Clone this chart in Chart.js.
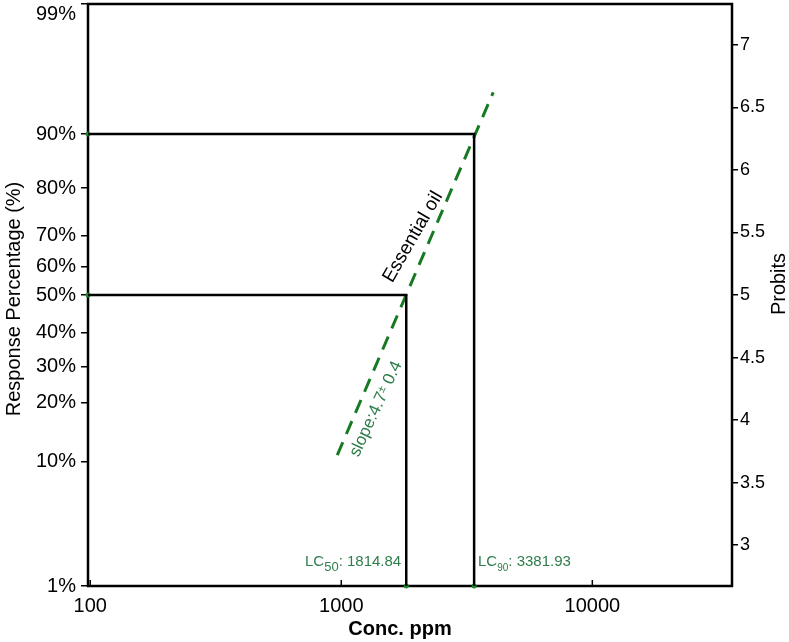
<!DOCTYPE html>
<html>
<head>
<meta charset="utf-8">
<script src="https://cdn.jsdelivr.net/npm/chart.js@4.4.0/dist/chart.umd.min.js"></script>
<style>
  html, body { margin: 0; padding: 0; background: #fff; }
</style>
</head>
<body>
<canvas id="chart" width="789" height="642"></canvas>
<script>
// Probit plot: log concentration vs response, probit units on both y axes
const FONT = "'Liberation Sans', Arial, sans-serif";
const GREEN_LINE = '#177a22';
const GREEN_TEXT = '#2e7d4a';

const xRange = [98, 36000];
const xTicks = [100, 1000, 10000];

// left axis: percentage labels and where they sit on the probit scale
const pctLabels = ['1%', '10%', '20%', '30%', '40%', '50%', '60%', '70%', '80%', '90%', '99%'];
const pctTickProbits = [2.674, 3.67, 4.14, 4.43, 4.70, 5.0, 5.224, 5.472, 5.855, 6.287, 7.326];

// right axis
const probitTicks = [3, 3.5, 4, 4.5, 5, 5.5, 6, 6.5, 7];

const lc50 = 1814.84;
const lc90 = 3381.93;
const probit50 = 5.0;
const probit90 = 6.287;

// fitted line end points (conc, probit)
const fitLineX = [964, 4030];
const fitLineY = [3.72, 6.62];

const yMin = pctTickProbits[0];
const yMax = pctTickProbits[pctTickProbits.length - 1];

const stepLine = (conc, p) => [
  { x: xRange[0], y: p },
  { x: conc, y: p },
  { x: conc, y: yMin },
];

const decorations = {
  id: 'decorations',
  beforeDatasetsDraw(chart) {
    const { ctx, chartArea: a, scales } = chart;
    ctx.save();
    ctx.strokeStyle = '#000';
    // x ticks point into the plot
    ctx.lineWidth = 1.5;
    xTicks.forEach(v => {
      const px = scales.x.getPixelForValue(v);
      ctx.beginPath();
      ctx.moveTo(px, a.bottom);
      ctx.lineTo(px, a.bottom - 6);
      ctx.stroke();
    });
    ctx.lineWidth = 2.5;
    ctx.strokeRect(a.left, a.top, a.right - a.left, a.bottom - a.top);
    ctx.restore();
  },
  afterDraw(chart) {
    const { ctx } = chart;
    ctx.save();
    ctx.fillStyle = '#000';
    ctx.textAlign = 'center';
    ctx.textBaseline = 'middle';

    // axis titles
    ctx.font = `20px ${FONT}`;
    ctx.save();
    ctx.translate(14, 299);
    ctx.rotate(-Math.PI / 2);
    ctx.fillText('Response Percentage (%)', 0, 0);
    ctx.restore();

    ctx.save();
    ctx.translate(779, 284);
    ctx.rotate(-Math.PI / 2);
    ctx.fillText('Probits', 0, 0);
    ctx.restore();

    ctx.font = `bold 20px ${FONT}`;
    ctx.fillText('Conc. ppm', 400, 629);

    // line label
    ctx.save();
    ctx.translate(413, 237);
    ctx.rotate(-60 * Math.PI / 180);
    ctx.font = `19px ${FONT}`;
    ctx.fillText('Essential oil', 0, 0);
    ctx.restore();

    // slope label (small ± sign)
    ctx.save();
    ctx.fillStyle = GREEN_TEXT;
    ctx.translate(376, 409);
    ctx.rotate(-65 * Math.PI / 180);
    ctx.textAlign = 'left';
    const big = `17px ${FONT}`, small = `11px ${FONT}`;
    ctx.font = big;
    const w1 = ctx.measureText('slope:4.7').width;
    const w3 = ctx.measureText(' 0.4').width;
    ctx.font = small;
    const w2 = ctx.measureText('±').width;
    let x = -(w1 + w2 + w3) / 2;
    ctx.font = big;
    ctx.fillText('slope:4.7', x, 0);
    x += w1;
    ctx.font = small;
    ctx.fillText('±', x, -3);
    x += w2;
    ctx.font = big;
    ctx.fillText(' 0.4', x, 0);
    ctx.restore();

    // LC labels with subscripts
    const lcLabel = (x0, base, sub, subSize, value) => {
      ctx.save();
      ctx.fillStyle = GREEN_TEXT;
      ctx.textAlign = 'left';
      ctx.textBaseline = 'alphabetic';
      let x = x0;
      ctx.font = `15px ${FONT}`;
      ctx.fillText('LC', x, base);
      x += ctx.measureText('LC').width;
      ctx.font = `${subSize}px ${FONT}`;
      ctx.fillText(sub, x, base + 5);
      x += ctx.measureText(sub).width;
      ctx.font = `15px ${FONT}`;
      ctx.fillText(': ' + value, x, base);
      ctx.restore();
    };
    lcLabel(305, 566, '50', 13, lc50.toFixed(2));
    lcLabel(478, 566, '90', 10, lc90.toFixed(2));

    ctx.restore();
  }
};

new Chart(document.getElementById('chart'), {
  type: 'scatter',
  data: {
    datasets: [
      {
        label: 'LC50',
        data: stepLine(lc50, probit50),
        showLine: true,
        borderColor: '#000',
        borderWidth: 2.5,
        pointRadius: 0,
        yAxisID: 'y',
      },
      {
        label: 'LC90',
        data: stepLine(lc90, probit90),
        showLine: true,
        borderColor: '#000',
        borderWidth: 2.5,
        pointRadius: 0,
        yAxisID: 'y',
      },
      {
        label: 'Essential oil',
        data: fitLineX.map((x, i) => ({ x, y: fitLineY[i] })),
        showLine: true,
        borderColor: GREEN_LINE,
        borderWidth: 3,
        borderDash: [14, 9],
        pointRadius: 0,
        yAxisID: 'y',
      },
      {
        label: 'markers',
        data: [
          { x: xRange[0], y: probit50 },
          { x: xRange[0], y: probit90 },
          { x: lc50, y: yMin },
          { x: lc90, y: yMin },
        ],
        pointRadius: 2.5,
        pointBackgroundColor: '#1a8a2a',
        pointBorderWidth: 0,
        clip: false,
        yAxisID: 'y',
      },
    ],
  },
  options: {
    responsive: false,
    animation: false,
    devicePixelRatio: 1,
    layout: { padding: { top: 4, left: 0, right: 0, bottom: 0 } },
    plugins: {
      legend: { display: false },
      tooltip: { enabled: false },
    },
    scales: {
      x: {
        type: 'logarithmic',
        min: xRange[0],
        max: xRange[1],
        afterBuildTicks: s => { s.ticks = xTicks.map(v => ({ value: v })); },
        afterFit: s => { s.height = 56; s.paddingLeft = 0; s.paddingRight = 0; },
        grid: { display: false, drawTicks: false },
        border: { display: false },
        ticks: {
          autoSkip: false,
          maxRotation: 0,
          padding: 8,
          color: '#000',
          font: { family: FONT, size: 20 },
          callback: v => String(v),
        },
      },
      y: {
        type: 'linear',
        position: 'left',
        min: yMin,
        max: yMax,
        afterBuildTicks: s => { s.ticks = pctTickProbits.map(v => ({ value: v })); },
        afterFit: s => { s.width = 88; s.paddingTop = 0; s.paddingBottom = 0; },
        grid: { drawOnChartArea: false, tickLength: 7, color: '#000', lineWidth: 1.5 },
        border: { display: false },
        ticks: {
          autoSkip: false,
          padding: 5,
          color: '#000',
          font: { family: FONT, size: 20, lineHeight: 1.0 },
          callback: (v, i) => (i === pctLabels.length - 1 ? ['', pctLabels[i]] : pctLabels[i]),
        },
      },
      y1: {
        type: 'linear',
        position: 'right',
        min: yMin,
        max: yMax,
        afterBuildTicks: s => { s.ticks = probitTicks.map(v => ({ value: v })); },
        afterFit: s => { s.width = 57; s.paddingTop = 0; s.paddingBottom = 0; },
        grid: { drawOnChartArea: false, tickLength: 6, color: '#000', lineWidth: 1.5 },
        border: { display: false },
        ticks: {
          autoSkip: false,
          padding: 2,
          color: '#000',
          font: { family: FONT, size: 18 },
          callback: v => String(v),
        },
      },
    },
  },
  plugins: [decorations],
});
</script>
</body>
</html>
